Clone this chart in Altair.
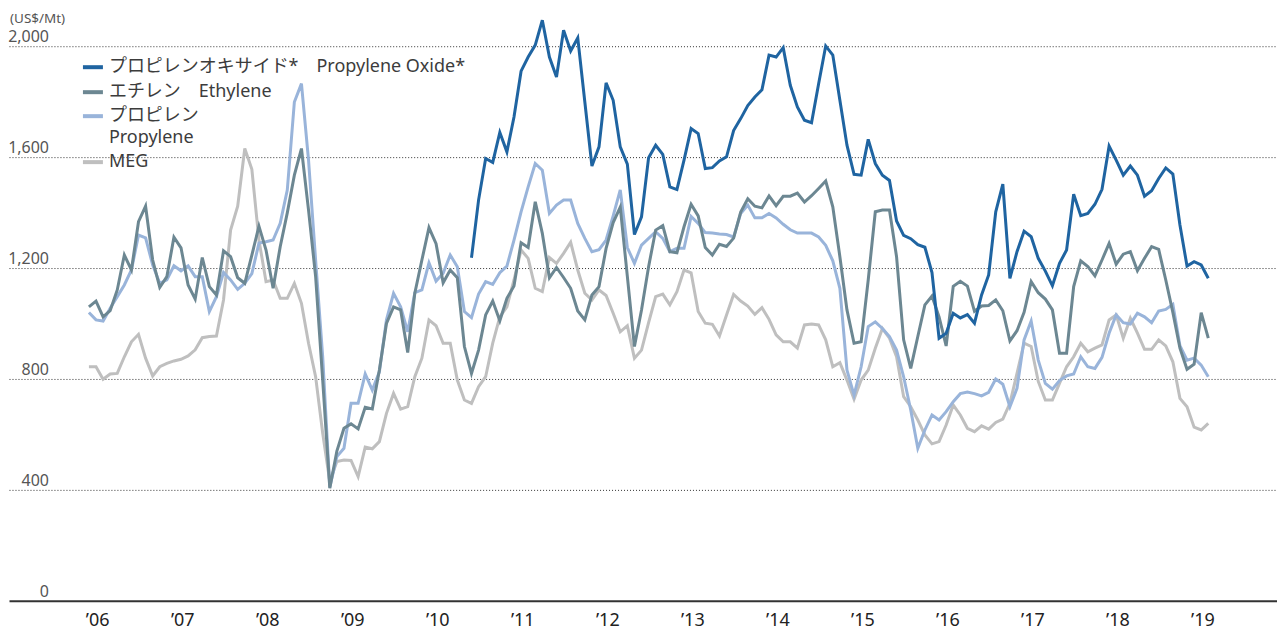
import json
import altair as alt
import pandas as pd

# ---------------- data (monthly, index 0 = Jan 2006) ----------------
series_names = [
    "プロピレンオキサイド*　Propylene Oxide*",
    "エチレン　Ethylene",
    "プロピレン　Propylene",
    "MEG",
]
colors = ["#1f64a1", "#6c8792", "#99b4da", "#bfbfbf"]

ethylene = [
    1060, 1081, 1024, 1046, 1121, 1247, 1193, 1367, 1423, 1229,
    1130, 1169, 1311, 1273, 1139, 1088, 1238, 1133, 1103, 1262,
    1241, 1165, 1145, 1247, 1351, 1265, 1127, 1277, 1399, 1535,
    1631, 1409, 1169, 796, 406, 540, 622, 638, 620, 698,
    692, 832, 1000, 1060, 1049, 895, 1109, 1229, 1346, 1288,
    1147, 1193, 1165, 917, 820, 904, 1031, 1081, 1010, 1091,
    1135, 1291, 1274, 1439, 1325, 1165, 1202, 1166, 1127, 1045,
    1013, 1103, 1133, 1271, 1364, 1420, 1170, 917, 1049, 1205,
    1337, 1353, 1259, 1255, 1349, 1430, 1388, 1274, 1247, 1286,
    1278, 1308, 1402, 1450, 1423, 1417, 1460, 1425, 1459, 1459,
    1470, 1438, 1461, 1487, 1514, 1421, 1241, 1049, 929, 934,
    1157, 1403, 1409, 1409, 1241, 941, 838, 953, 1067, 1099,
    1024, 919, 1134, 1152, 1135, 1044, 1063, 1065, 1085, 1046,
    937, 974, 1040, 1151, 1111, 1088, 1049, 893, 893, 1133,
    1226, 1205, 1172, 1229, 1289, 1214, 1250, 1259, 1190, 1235,
    1277, 1267, 1157, 1040, 911, 835, 853, 1039, 947,
]

propylene = [
    1040, 1013, 1009, 1055, 1097, 1139, 1193, 1319, 1309, 1211,
    1145, 1157, 1208, 1190, 1208, 1169, 1169, 1043, 1097, 1184,
    1157, 1123, 1145, 1180, 1290, 1295, 1301, 1361, 1481, 1799,
    1865, 1589, 1229, 880, 410, 520, 550, 712, 712, 818,
    760, 826, 1013, 1109, 1060, 970, 1111, 1121, 1219, 1153,
    1181, 1247, 1205, 1043, 1021, 1106, 1151, 1141, 1183, 1207,
    1301, 1403, 1493, 1577, 1553, 1397, 1427, 1445, 1445, 1361,
    1307, 1259, 1266, 1301, 1388, 1482, 1274, 1217, 1283, 1307,
    1331, 1307, 1259, 1271, 1271, 1386, 1361, 1328, 1326, 1323,
    1321, 1312, 1397, 1427, 1381, 1381, 1397, 1381, 1358, 1338,
    1326, 1326, 1326, 1312, 1282, 1226, 1127, 832, 742, 844,
    989, 1006, 982, 953, 904, 808, 688, 550, 616, 670,
    652, 682, 718, 747, 753, 747, 739, 752, 800, 781,
    700, 766, 941, 1009, 868, 784, 763, 794, 811, 818,
    880, 844, 838, 878, 965, 1031, 1003, 998, 1037, 1024,
    1003, 1045, 1051, 1069, 920, 868, 875, 850, 808,
]

meg = [
    844, 844, 799, 818, 820, 880, 934, 961, 875, 811,
    844, 856, 865, 871, 883, 905, 949, 953, 955, 1085,
    1337, 1423, 1631, 1556, 1301, 1151, 1157, 1091, 1091, 1145,
    1073, 929, 808, 604, 430, 502, 508, 506, 448, 554,
    548, 574, 676, 748, 691, 700, 808, 875, 1013, 992,
    929, 929, 796, 724, 712, 772, 808, 929, 1024, 1060,
    1157, 1265, 1235, 1127, 1115, 1238, 1217, 1253, 1293, 1193,
    1109, 1085, 1121, 1101, 1037, 970, 992, 875, 904, 1003,
    1097, 1106, 1067, 1115, 1193, 1183, 1043, 1001, 997, 955,
    1031, 1105, 1081, 1063, 1033, 1057, 1015, 959, 934, 934,
    911, 995, 998, 995, 941, 844, 859, 796, 727, 796,
    832, 911, 982, 947, 880, 736, 700, 652, 598, 566,
    574, 634, 706, 670, 622, 610, 631, 619, 643, 655,
    712, 820, 929, 917, 791, 724, 724, 784, 844, 880,
    929, 898, 911, 923, 1013, 1031, 947, 1019, 965, 907,
    907, 941, 919, 862, 730, 700, 626, 616, 640,
]

# Propylene oxide starts in July 2010 (month index 54)
po_start = 54
propylene_oxide = [
    1237, 1445, 1595, 1581, 1689, 1619, 1745, 1910, 1961, 2004,
    2094, 1961, 1889, 2058, 1983, 2030, 1799, 1568, 1637, 1868,
    1805, 1637, 1575, 1321, 1385, 1598, 1643, 1610, 1493, 1483,
    1589, 1703, 1685, 1559, 1562, 1586, 1601, 1696, 1739, 1786,
    1817, 1843, 1968, 1961, 1995, 1859, 1781, 1733, 1724, 1865,
    2001, 1968, 1805, 1643, 1538, 1535, 1664, 1577, 1535, 1516,
    1370, 1318, 1306, 1284, 1275, 1184, 947, 965, 1037, 1020,
    1032, 1001, 1103, 1175, 1403, 1503, 1163, 1259, 1333, 1313,
    1235, 1189, 1136, 1217, 1265, 1466, 1389, 1397, 1430, 1484,
    1640, 1589, 1535, 1568, 1535, 1459, 1479, 1523, 1561, 1539,
    1355, 1207, 1223, 1211, 1163,
]

year_labels = ["’06", "’07", "’08", "’09", "’10", "’11", "’12",
               "’13", "’14", "’15", "’16", "’17", "’18", "’19"]
# label anchors sit just before each January
year_ticks = [12 * i - 0.5 for i in range(len(year_labels))]
y_tick_values = [0, 400, 800, 1200, 1600, 2000]
y_tick_labels = ["0", "400", "800", "1,200", "1,600", "2,000"]
unit_label = "(US$/Mt)"
legend_lines = [
    ["プロピレンオキサイド*　Propylene Oxide*"],
    ["エチレン　Ethylene"],
    ["プロピレン", "Propylene"],
    ["MEG"],
]

# ---------------- build table ----------------
rows = []
for name, vals, start in [
    (series_names[0], propylene_oxide, po_start),
    (series_names[1], ethylene, 0),
    (series_names[2], propylene, 0),
    (series_names[3], meg, 0),
]:
    for i, v in enumerate(vals):
        rows.append({"series": name, "m": start + i, "value": v})
df = pd.DataFrame(rows)

FONT = "'Noto Sans', 'Noto Sans CJK JP', sans-serif"
W, H = 1269, 593

x_scale = alt.Scale(domain=[-11.28, 167.7], nice=False, zero=False)
y_scale = alt.Scale(domain=[0, 2137], nice=False)

x_axis = alt.Axis(
    values=year_ticks,
    labelExpr=json.dumps(year_labels, ensure_ascii=False) + "[round(datum.value / 12)]",
    title=None, grid=False, ticks=False, tickSize=0,
    domain=True, domainColor="#333333", domainWidth=2,
    labelFont=FONT, labelFontSize=18, labelColor="#222222",
    labelAlign="left", labelBaseline="top", labelPadding=11,
    labelFlush=False, labelOverlap=False,
)
y_axis = alt.Axis(
    values=y_tick_values[1:], title=None, grid=True,
    gridDash=[1, 2], gridColor="#333333", gridWidth=1,
    labels=False, ticks=False, domain=False,
)

layers = []
# draw order: MEG, Propylene, Ethylene, Propylene Oxide (top)
for name, color in list(zip(series_names, colors))[::-1]:
    layers.append(
        alt.Chart(df)
        .transform_filter(alt.datum.series == name)
        .mark_line(color=color, strokeWidth=3)
        .encode(
            x=alt.X("m:Q", scale=x_scale, axis=x_axis),
            y=alt.Y("value:Q", scale=y_scale, axis=y_axis),
            order="m:Q",
        )
    )

# y tick labels sitting above the gridlines
ylab_df = pd.DataFrame({"v": y_tick_values, "label": y_tick_labels})
layers.append(
    alt.Chart(ylab_df)
    .mark_text(align="right", baseline="alphabetic", dy=-4,
               font=FONT, fontSize=16, color="#555555")
    .encode(x=alt.value(40),
            y=alt.Y("v:Q", scale=y_scale, axis=y_axis),
            text="label:N")
)

# unit label
layers.append(
    alt.Chart(pd.DataFrame({"t": [unit_label]}))
    .mark_text(align="left", baseline="alphabetic", font=FONT,
               fontSize=13.5, color="#555555")
    .encode(x=alt.value(1), y=alt.value(14.5), text="t:N")
)

# legend (manual)
row_y = [59, 84, 108, 154]
for lines, color, yy in zip(legend_lines, colors, row_y):
    layers.append(
        alt.Chart(pd.DataFrame({"s": [lines[0]]}))
        .mark_rule(color=color, strokeWidth=4)
        .encode(x=alt.value(74), x2=alt.value(94), y=alt.value(yy))
    )
    for k, line in enumerate(lines):
        layers.append(
            alt.Chart(pd.DataFrame({"t": [line]}))
            .mark_text(align="left", baseline="middle", font=FONT,
                       fontSize=18, color="#3c3c3c")
            .encode(x=alt.value(100), y=alt.value(yy + 22 * k), text="t:N")
        )

chart = (
    alt.layer(*layers)
    .properties(width=W, height=H, padding=0, background="white")
    .configure_view(stroke=None)
)

chart.save("out.html", embed_options={"renderer": "svg", "actions": False})
